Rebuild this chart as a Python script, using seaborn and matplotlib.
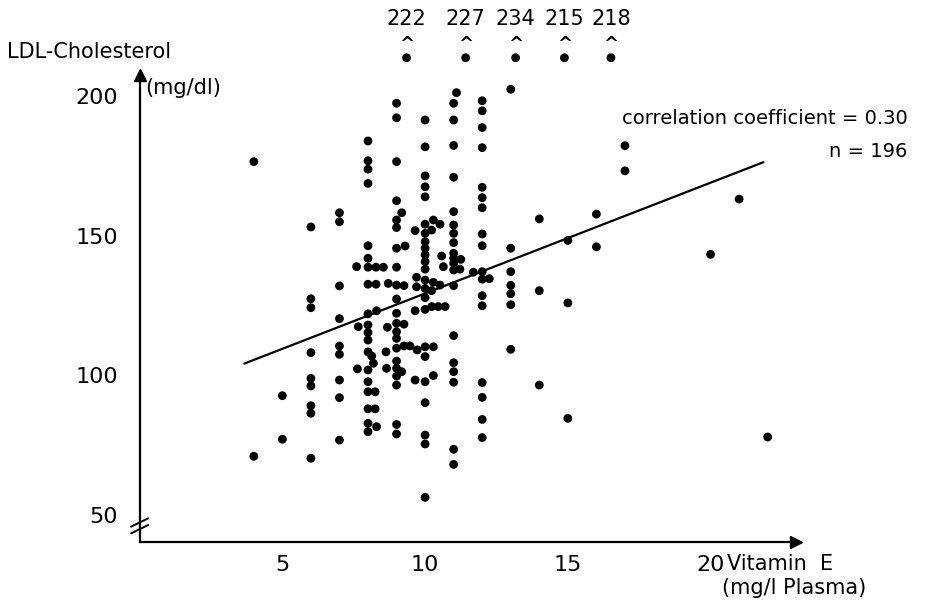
import matplotlib
matplotlib.use("Agg")
import matplotlib.pyplot as plt
import seaborn as sns
import pandas as pd

# ---------- data ---------- #
# Vitamin E (mg/l plasma) and LDL-cholesterol (mg/dl), grouped by column
vit_e = (
    [4, 4]
    + [5, 5]
    + [6] * 9
    + [7] * 9
    + [7.6, 7.66, 7.63]
    + [8] * 19
    + [8.28, 8.54, 8.28, 8.3, 8.13, 8.19, 8.25, 8.25, 8.3]
    + [9] * 21
    + [9.18, 9.3, 8.71, 9.26, 8.68, 9.26, 8.63, 9.26, 9.47, 9.18, 8.65]
    + [10] * 23
    + [10.29, 10.23, 10.52, 9.65, 10.58, 10.64, 9.7, 9.7, 10.29, 10.52,
       10.23, 9.65, 10.23, 10.46, 10.7, 9.72, 10.29, 9.65, 10.29]
    + [11] * 19
    + [11.1, 11.25, 11.22]
    + [12] * 17
    + [11.69, 12.25]
    + [13] * 7
    + [14] * 3
    + [15] * 3
    + [16] * 2
    + [17] * 2
    + [20, 21, 22]
)
ldl = (
    [176.5, 71.0]
    + [92.7, 77.1]
    + [153.1, 127.4, 124.2, 108.1, 98.9, 96.2, 89.1, 86.4, 70.3]
    + [158.2, 155.0, 132.0, 120.3, 110.5, 107.5, 98.3, 92.0, 76.8]
    + [138.9, 117.4, 102.3]
    + [183.9, 176.8, 173.8, 168.7, 146.4, 141.9, 138.7, 132.6, 122.0, 118.0,
       115.3, 112.6, 108.4, 101.9, 97.7, 94.1, 88.0, 82.8, 79.8]
    + [138.7, 138.7, 132.6, 123.1, 106.9, 104.3, 94.1, 88.0, 81.6]
    + [197.4, 192.2, 176.5, 162.5, 155.6, 152.9, 145.5, 138.7, 132.3, 127.3,
       122.2, 118.6, 115.6, 113.2, 109.7, 105.1, 102.5, 99.7, 96.5, 82.4, 79.0]
    + [158.2, 146.3, 132.9, 132.1, 117.2, 118.3, 108.4, 110.5, 110.5, 101.3, 102.5]
    + [191.4, 181.8, 171.4, 167.5, 163.9, 154.1, 150.8, 147.8, 145.5, 143.1,
       140.7, 138.0, 134.1, 131.1, 127.8, 123.6, 110.2, 106.7, 97.7, 90.2,
       78.6, 75.4, 56.3]
    + [155.6, 152.0, 154.1, 151.8, 142.7, 138.9, 135.1, 131.7, 133.3, 132.3,
       130.3, 123.1, 124.6, 124.6, 124.6, 109.1, 110.2, 98.3, 99.9]
    + [197.4, 191.4, 182.3, 170.9, 158.6, 153.8, 150.8, 147.5, 143.7, 141.9,
       140.1, 137.7, 132.1, 114.2, 104.5, 101.3, 97.5, 73.5, 68.1]
    + [201.2, 141.5, 138.0]
    + [198.3, 194.7, 188.7, 181.5, 167.3, 163.6, 160.0, 150.6, 146.4, 137.1,
       134.4, 128.5, 124.9, 97.4, 92.1, 84.2, 77.7]
    + [136.9, 134.6]
    + [202.4, 145.5, 137.1, 132.2, 129.2, 125.3, 109.3]
    + [156.0, 130.3, 96.5]
    + [148.3, 125.9, 84.6]
    + [157.7, 146.0]
    + [182.2, 173.2]
    + [143.3, 163.1, 77.9]
)

# values above the plotted range
off_x = [9.35, 11.42, 13.17, 14.88, 16.51]
off_ldl = [222, 227, 234, 215, 218]

# regression line end points
reg_x = [3.67, 21.85]
reg_y = [104.2, 176.3]

x_ticks = [5, 10, 15, 20]
y_ticks = [50, 100, 150, 200]

df = pd.DataFrame({"vit_e": vit_e, "ldl": ldl})

# ---------- plot ---------- #
sns.set_style("white")
plt.rcParams["font.family"] = ["DejaVu Sans"]
plt.rcParams["text.color"] = "black"
plt.rcParams["xtick.color"] = "black"
plt.rcParams["ytick.color"] = "black"
plt.rcParams["axes.edgecolor"] = "black"

fig = plt.figure(figsize=(9.29, 6.01), dpi=100)
ax = fig.add_axes([0, 0, 1, 1])
ax.set_xlim(-4.89, 27.65)
ax.set_ylim(19.19, 234.37)

x_axis_y = 40.3
top_row = 213.7

sns.scatterplot(data=df, x="vit_e", y="ldl", ax=ax, color="black",
                s=40, edgecolor="none", legend=False)
sns.scatterplot(x=off_x, y=[top_row] * len(off_x), ax=ax, color="black",
                s=40, edgecolor="none", legend=False)
sns.lineplot(x=reg_x, y=reg_y, ax=ax, color="black", linewidth=1.6)

for xv, v in zip(off_x, off_ldl):
    ax.text(xv, 218.6, "^", ha="center", va="center", fontsize=13, fontweight="bold")
    ax.text(xv, 227.6, str(v), ha="center", va="center", fontsize=15)

# axes with arrows
for side in ["top", "right"]:
    ax.spines[side].set_visible(False)
ax.spines["left"].set_position(("data", 0))
ax.spines["bottom"].set_position(("data", x_axis_y))
ax.spines["left"].set_bounds(x_axis_y, 207)
ax.spines["bottom"].set_bounds(0, 22.9)
for side in ["left", "bottom"]:
    ax.spines[side].set_linewidth(1.6)
ax.plot(23.0, x_axis_y, marker=">", color="black", markersize=9, clip_on=False)
ax.plot(0, 207.5, marker="^", color="black", markersize=9, clip_on=False)

# axis break marks
ax.plot([-0.3, 0.3], [45.8, 48.8], color="black", linewidth=1.4)
ax.plot([-0.3, 0.3], [43.4, 46.4], color="black", linewidth=1.4)

ax.set_xticks(x_ticks)
ax.set_xticklabels([str(t) for t in x_ticks])
ax.set_yticks(y_ticks)
ax.set_yticklabels([str(t) for t in y_ticks])
ax.tick_params(axis="x", direction="out", length=4, width=1.4, labelsize=16, pad=5,
               colors="black")
ax.tick_params(axis="y", direction="out", length=5.5, width=1.4, labelsize=16, pad=10,
               colors="black")
ax.set_xlabel("")
ax.set_ylabel("")

ax.text(-4.63, 215.75, "LDL-Cholesterol", ha="left", va="center", fontsize=15)
ax.text(0.19, 202.9, "(mg/dl)", ha="left", va="center", fontsize=15)
ax.text(20.56, 32.4, "Vitamin  E", ha="left", va="center", fontsize=15)
ax.text(20.39, 23.9, "(mg/l Plasma)", ha="left", va="center", fontsize=15)
ax.text(26.91, 191.8, "correlation coefficient = 0.30", ha="right", va="center", fontsize=14)
ax.text(26.91, 180.3, "n = 196", ha="right", va="center", fontsize=14)

fig.savefig("out.png", dpi=100)
